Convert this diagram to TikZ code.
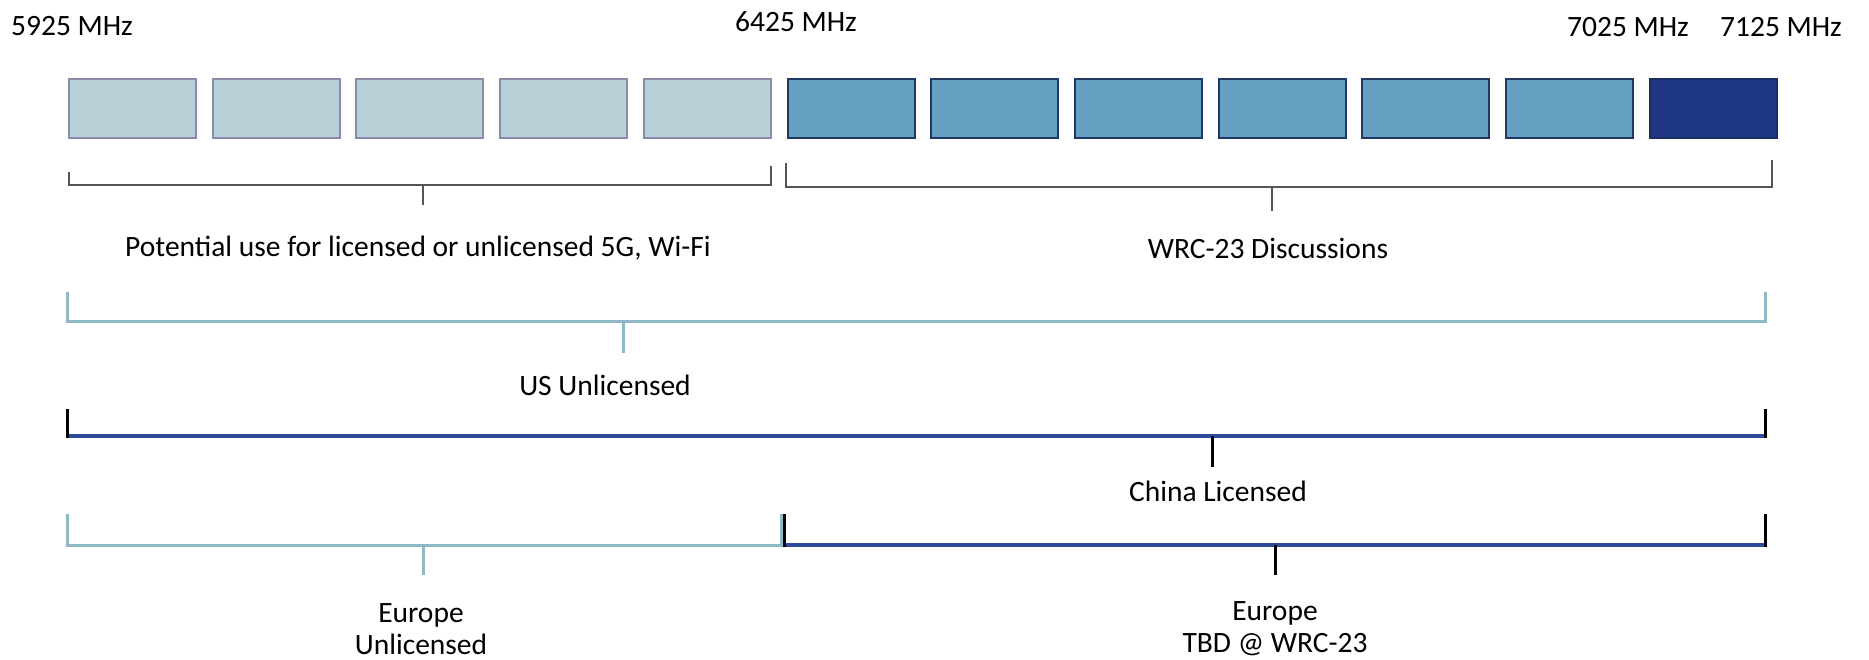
\documentclass[tikz,border=0pt]{standalone}
\usepackage{fontspec}
\setmainfont{Carlito}
\definecolor{lightfill}{HTML}{B8D0D8}
\definecolor{lightborder}{HTML}{8A8AA8}
\definecolor{midfill}{HTML}{659FC2}
\definecolor{midborder}{HTML}{1F3864}
\definecolor{darkfill}{HTML}{1F3782}
\definecolor{darkborder}{HTML}{1A2E66}
\definecolor{tealbr}{HTML}{8DBAC6}
\definecolor{navybr}{HTML}{2E4A9A}
\definecolor{graybr}{HTML}{555555}
\begin{document}
\begin{tikzpicture}[x=1pt,y=-1pt,
  band/.style={minimum width=127pt,minimum height=59pt,inner sep=0pt,line width=2pt},
  lightband/.style={band,fill=lightfill,draw=lightborder},
  midband/.style={band,fill=midfill,draw=midborder},
  darkband/.style={band,fill=darkfill,draw=darkborder},
  lbl/.style={font=\fontsize{29.5}{32}\selectfont,align=center,inner sep=0pt},
  graybrk/.style={draw=graybr,line width=2.2pt},
  tealbrk/.style={draw=tealbr,line width=3pt},
  navybrk/.style={draw=navybr,line width=3.5pt},
  blackbrk/.style={draw=black,line width=3pt}]
\useasboundingbox (0,0) rectangle (1869,660);
% bands
\foreach \i in {1,...,5}
  \node[lightband] (b\i) at ({69+(\i-1)*143.7+63.5},108.5) {};
\foreach \i in {6,...,11}
  \node[midband] (b\i) at ({69+(\i-1)*143.7+63.5},108.5) {};
\node[darkband] (b12) at ({69+11*143.7+63.5},108.5) {};
% frequency labels
\node[lbl] (f1) at (72,26) {5925 MHz};
\node[lbl] (f2) at (796,22) {6425 MHz};
\node[lbl] (f3) at (1628,27) {7025 MHz};
\node[lbl] (f4) at (1781,27) {7125 MHz};
% bracket: potential use
\draw[graybrk] (69,172) -- (69,185) -- (771,185) -- (771,166);
\draw[graybrk] (423,185) -- (423,205);
\node[lbl] (pot) at (418,248) {Potential use for licensed or unlicensed 5G, Wi-Fi};
% bracket: WRC-23 discussions
\draw[graybrk] (786,163) -- (786,187) -- (1772,187) -- (1772,160);
\draw[graybrk] (1272,187) -- (1272,211);
\node[lbl] (wrc) at (1268,248) {WRC-23 Discussions};
% US unlicensed
\draw[tealbrk] (67,292) -- (67,322) -- (1765,322) -- (1765,292);
\draw[tealbrk] (623,322) -- (623,353);
\node[lbl] (us) at (605,385) {US Unlicensed};
% China licensed
\draw[navybrk] (67,436) -- (1765,436);
\draw[blackbrk] (67,409) -- (67,437.5);
\draw[blackbrk] (1765,409) -- (1765,437.5);
\draw[blackbrk] (1212,436) -- (1212,467);
\node[lbl] (cn) at (1218,491) {China Licensed};
% Europe unlicensed
\draw[tealbrk] (67,514) -- (67,545) -- (781,545) -- (781,514);
\draw[tealbrk] (423,545) -- (423,575);
\node[lbl] (eu1) at (421,629) {Europe\\Unlicensed};
% Europe TBD
\draw[navybrk] (784,545) -- (1765,545);
\draw[blackbrk] (784,514) -- (784,546.5);
\draw[blackbrk] (1765,514) -- (1765,546.5);
\draw[blackbrk] (1275,545) -- (1275,575);
\node[lbl] (eu2) at (1275,629) {Europe\\TBD @ WRC-23};
\end{tikzpicture}
\end{document}
